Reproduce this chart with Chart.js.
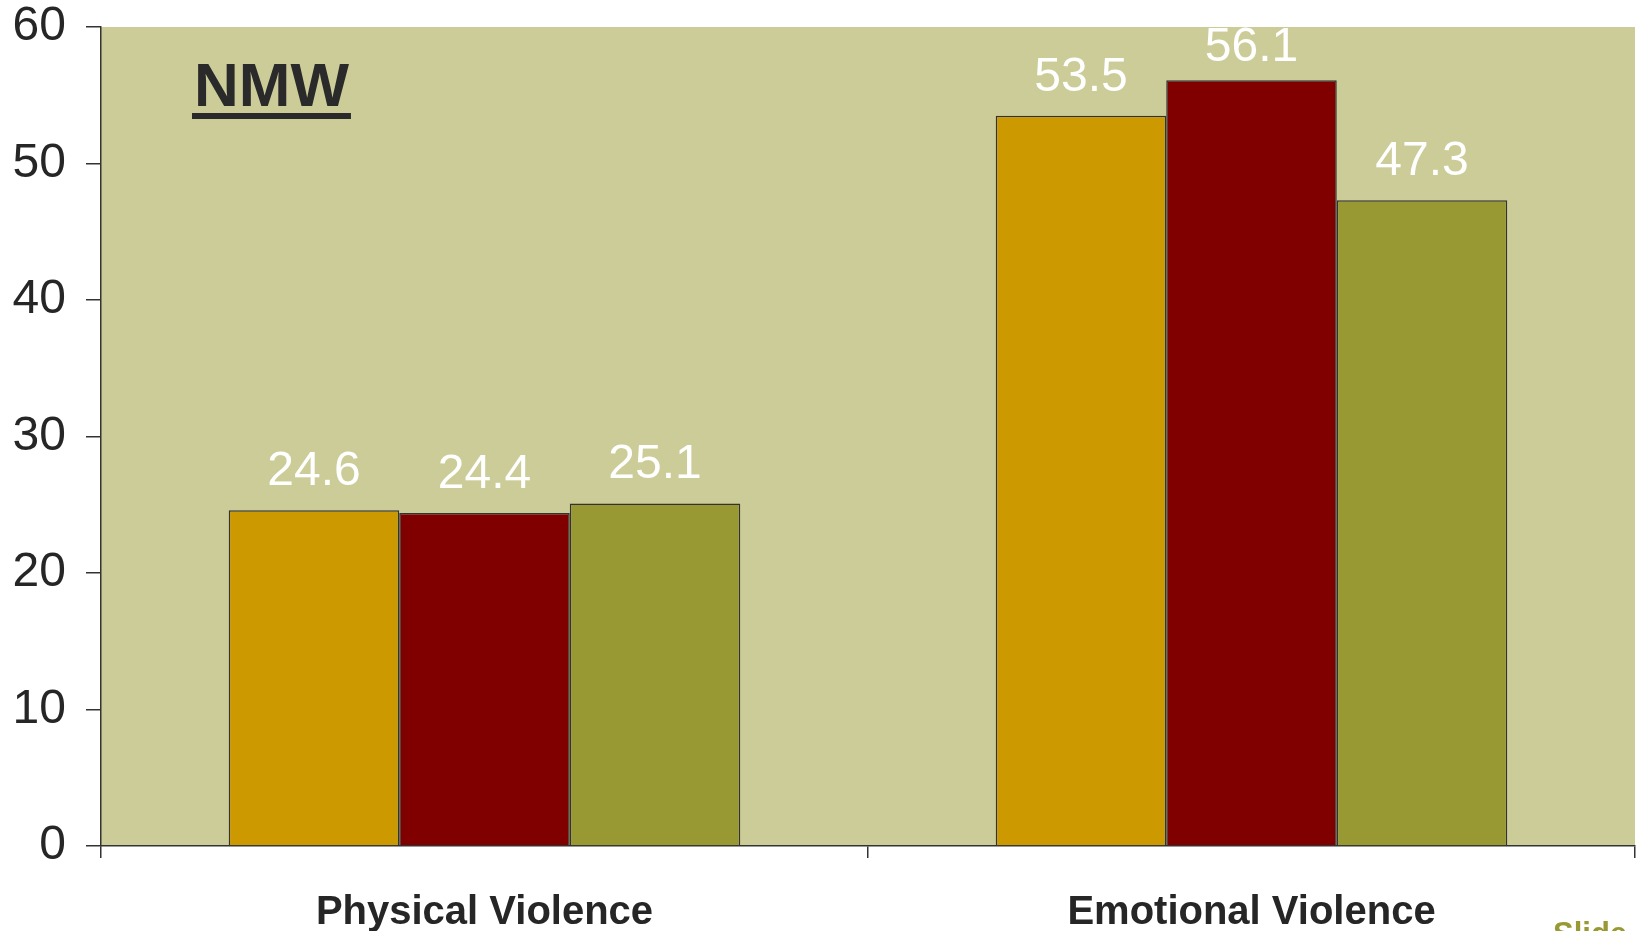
<!DOCTYPE html>
<html>
<head>
<meta charset="utf-8">
<script src="https://cdn.jsdelivr.net/npm/chart.js@4"></script>
<style>
    body { margin: 0; background: #fff; }
    #wrap { position: relative; width: 1637px; height: 931px; overflow: hidden; }
    #slide { position: absolute; left: 1553px; top: 918px; font: bold 31px "Liberation Sans", Arial, sans-serif; color: #999933; line-height: 1; }
</style>
</head>
<body>
<div id="wrap">
    <canvas id="grafik" width="1637" height="931"></canvas>
    <div id="slide">Slide</div>
</div>
<script>
// data
let kategori = ['Physical Violence', 'Emotional Violence'];
let seriA = [24.6, 53.5];
let seriB = [24.4, 56.1];
let seriC = [25.1, 47.3];
let warna = ['#CC9900', '#800000', '#999933'];
let yTicks = [0, 10, 20, 30, 40, 50, 60];
let judul = 'NMW';

let latarPlot = {
    id: 'latarPlot',
    beforeDraw: function (chart) {
        let a = chart.chartArea;
        let ctx = chart.ctx;
        ctx.save();
        ctx.fillStyle = '#CCCC99';
        ctx.fillRect(a.left, a.top, a.right - a.left, a.bottom - a.top);
        ctx.restore();
    }
};

let labelNilai = {
    id: 'labelNilai',
    afterDatasetsDraw: function (chart) {
        let a = chart.chartArea;
        let ctx = chart.ctx;
        ctx.save();
        ctx.beginPath();
        ctx.rect(a.left, a.top, a.right - a.left, a.bottom - a.top);
        ctx.clip();
        ctx.fillStyle = '#ffffff';
        ctx.font = '48px "Liberation Sans", Arial, sans-serif';
        ctx.textAlign = 'center';
        ctx.textBaseline = 'alphabetic';
        let tinggiHuruf = 48 * 0.716;
        chart.data.datasets.forEach(function (ds, i) {
            let meta = chart.getDatasetMeta(i);
            meta.data.forEach(function (bar, j) {
                // label tetap di dalam area plot
                let y = Math.max(bar.y - 25, a.top + tinggiHuruf);
                ctx.fillText(ds.data[j].toFixed(1), bar.x, y);
            });
        });
        // judul
        ctx.fillStyle = '#2a2a2a';
        ctx.font = 'bold 62px "Liberation Sans", Arial, sans-serif';
        ctx.textAlign = 'left';
        let tx = a.left + 93;
        ctx.fillText(judul, tx, 106);
        let w = ctx.measureText(judul).width;
        ctx.fillRect(tx - 2, 113, w + 4, 6);
        ctx.restore();
    }
};

new Chart(document.getElementById('grafik'), {
    type: 'bar',
    data: {
        labels: kategori,
        datasets: [
            { data: seriA, backgroundColor: warna[0] },
            { data: seriB, backgroundColor: warna[1] },
            { data: seriC, backgroundColor: warna[2] }
        ].map(function (d) {
            d.borderColor = '#333333';
            d.borderWidth = 1.5;
            d.categoryPercentage = 0.667;
            d.barPercentage = 1.0;
            return d;
        })
    },
    options: {
        responsive: false,
        devicePixelRatio: 1,
        animation: false,
        layout: { padding: { top: 27, right: 2, left: 0, bottom: 0 } },
        plugins: {
            legend: { display: false },
            tooltip: { enabled: false }
        },
        scales: {
            x: {
                grid: {
                    offset: true,
                    drawOnChartArea: false,
                    tickLength: 12,
                    color: '#333333',
                    lineWidth: 1.5
                },
                border: { color: '#333333', width: 1.5 },
                ticks: {
                    color: '#262626',
                    padding: 31,
                    maxRotation: 0,
                    font: { family: '"Liberation Sans", Arial, sans-serif', size: 40, weight: 'bold' }
                },
                afterFit: function (scale) {
                    scale.height = 85;
                    scale.paddingLeft = 0;
                    scale.paddingRight = 0;
                }
            },
            y: {
                min: 0,
                max: 60,
                afterBuildTicks: function (scale) {
                    scale.ticks = yTicks.map(function (v) { return { value: v }; });
                },
                grid: {
                    drawOnChartArea: false,
                    tickLength: 15,
                    color: '#333333',
                    lineWidth: 1.5
                },
                border: { color: '#333333', width: 1.5 },
                ticks: {
                    color: '#262626',
                    padding: 20,
                    font: { family: '"Liberation Sans", Arial, sans-serif', size: 48 }
                },
                afterFit: function (scale) {
                    scale.width = 101;
                    scale.paddingTop = 0;
                    scale.paddingBottom = 0;
                }
            }
        }
    },
    plugins: [latarPlot, labelNilai]
});
</script>
</body>
</html>
